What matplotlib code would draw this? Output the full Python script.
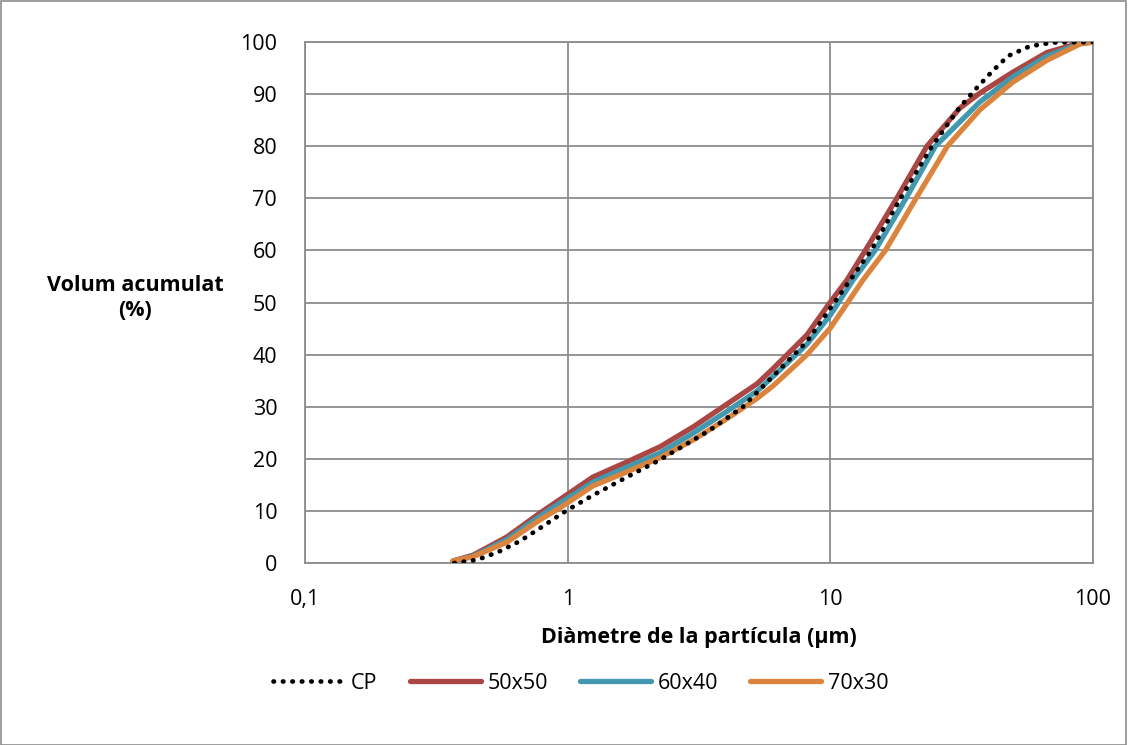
"""Corba granulomètrica: volum acumulat vs diàmetre"""

import matplotlib.pyplot as plt
from matplotlib.patches import Rectangle
from matplotlib.ticker import FixedLocator, NullLocator

plt.rcParams['font.family'] = ['Open Sans', 'DejaVu Sans']

# CP
d_cp = [0.37, 0.452, 0.543, 0.658, 0.785, 0.919, 1.0, 1.248, 1.682, 2.245, 3.48,
        4.65, 8.15, 10, 14.3, 18.5, 24.4, 31.1, 36.1, 41.2, 47.4, 57.5, 70.4, 100]
v_cp = [0, 0.6, 2.1, 4.2, 6.7, 9, 10.2, 13, 16.5, 19.8, 25.5,
        30, 42.5, 48.9, 60, 70, 80, 87.5, 91.2, 94.3, 97.3, 99.2, 99.9, 100]

# 50x50
d_50 = [0.366, 0.436, 0.587, 0.785, 1.0, 1.248, 1.682, 2.245, 3.0, 4.04, 5.26,
        6.05, 8.15, 10, 11.56, 13.9, 17.9, 23.3, 31.1, 37.1, 49.5, 66.8, 89.1, 100]
v_50 = [0.4, 1.5, 5, 9.6, 13.2, 16.5, 19.4, 22.3, 26.1, 30.5, 34.4,
        37.3, 43.8, 50.1, 54.3, 60.8, 70, 80, 87.3, 90.2, 94.2, 98, 99.8, 100]

# 60x40
d_60 = [0.366, 0.436, 0.587, 0.785, 0.935, 1.248, 1.682, 2.245, 3.0, 4.04, 5.26,
        6.05, 8.15, 10, 12.19, 14.8, 19.4, 25.1, 37.1, 49.5, 66.8, 89.1, 100]
v_60 = [0.4, 1.3, 4.5, 9, 11.5, 15.5, 18.4, 21.1, 24.9, 29.1, 33.0,
        35.8, 42.0, 47.6, 54.3, 60, 70, 80, 88.5, 93.3, 97.3, 99.7, 100]

# 70x30
d_70 = [0.366, 0.436, 0.587, 0.785, 0.935, 1.248, 1.682, 2.245, 3.0, 4.04, 5.26,
        6.05, 8.15, 10, 13.3, 16.2, 21.2, 27.9, 37.1, 49.5, 66.8, 89.1, 100]
v_70 = [0.4, 1.2, 4, 8.3, 10.6, 14.8, 17.5, 20.2, 23.6, 27.7, 31.6,
        34.0, 40.0, 45.1, 54.3, 60, 70, 80, 87, 92.3, 96.5, 99.6, 100]

x_ticks = [0.1, 1, 10, 100]
x_tick_labels = ['0,1', '1', '10', '100']
y_ticks = list(range(0, 101, 10))

fs = 15.5

fig = plt.figure(figsize=(11.28, 7.45), dpi=100)
ax = fig.add_axes([0.2704, 0.2443, 0.6986, 0.6993])

lw = 3.8
ax.plot(d_50, v_50, color='#AA4643', linewidth=lw, solid_capstyle='round', label='50x50', zorder=3)
ax.plot(d_60, v_60, color='#4198AF', linewidth=lw, solid_capstyle='round', label='60x40', zorder=4)
ax.plot(d_70, v_70, color='#DB843D', linewidth=lw, solid_capstyle='round', label='70x30', zorder=5)
ax.plot(d_cp, v_cp, color='black', linewidth=3.4, linestyle=(0, (0.1, 1.9)),
        dash_capstyle='round', label='CP', zorder=6)

ax.set_xscale('log')
ax.set_xlim(0.1, 100)
ax.set_ylim(0, 100)
ax.xaxis.set_major_locator(FixedLocator(x_ticks))
ax.xaxis.set_minor_locator(NullLocator())
ax.set_xticks(x_ticks)
ax.set_xticklabels(x_tick_labels)
ax.set_yticks(y_ticks)

ax.grid(True, color='#8c8c8c', linewidth=1.3)
ax.set_axisbelow(True)
for s in ax.spines.values():
    s.set_color('#8c8c8c')
    s.set_linewidth(1.3)
ax.tick_params(axis='y', length=0, labelsize=fs, pad=20)
ax.tick_params(axis='x', length=0, labelsize=fs, pad=19)

ax.set_xlabel('Diàmetre de la partícula (µm)', fontsize=fs, fontweight='bold', labelpad=12)
fig.text(0.12, 0.60, 'Volum acumulat\n(%)', fontsize=fs, fontweight='bold',
         ha='center', va='center', linespacing=1.2)

handles, labels = ax.get_legend_handles_labels()
order = [3, 0, 1, 2]
fig.legend([handles[i] for i in order], [labels[i] for i in order],
           loc='center', bbox_to_anchor=(0.515, 0.083), ncol=4, frameon=False,
           fontsize=fs, handlelength=3.3, handletextpad=0.3, columnspacing=1.5)

fig.patches.append(Rectangle((0.0005, 0.0005), 0.998, 0.998, transform=fig.transFigure,
                             fill=False, edgecolor='#8c8c8c', linewidth=1.2))

plt.savefig('out.png', dpi=100)
